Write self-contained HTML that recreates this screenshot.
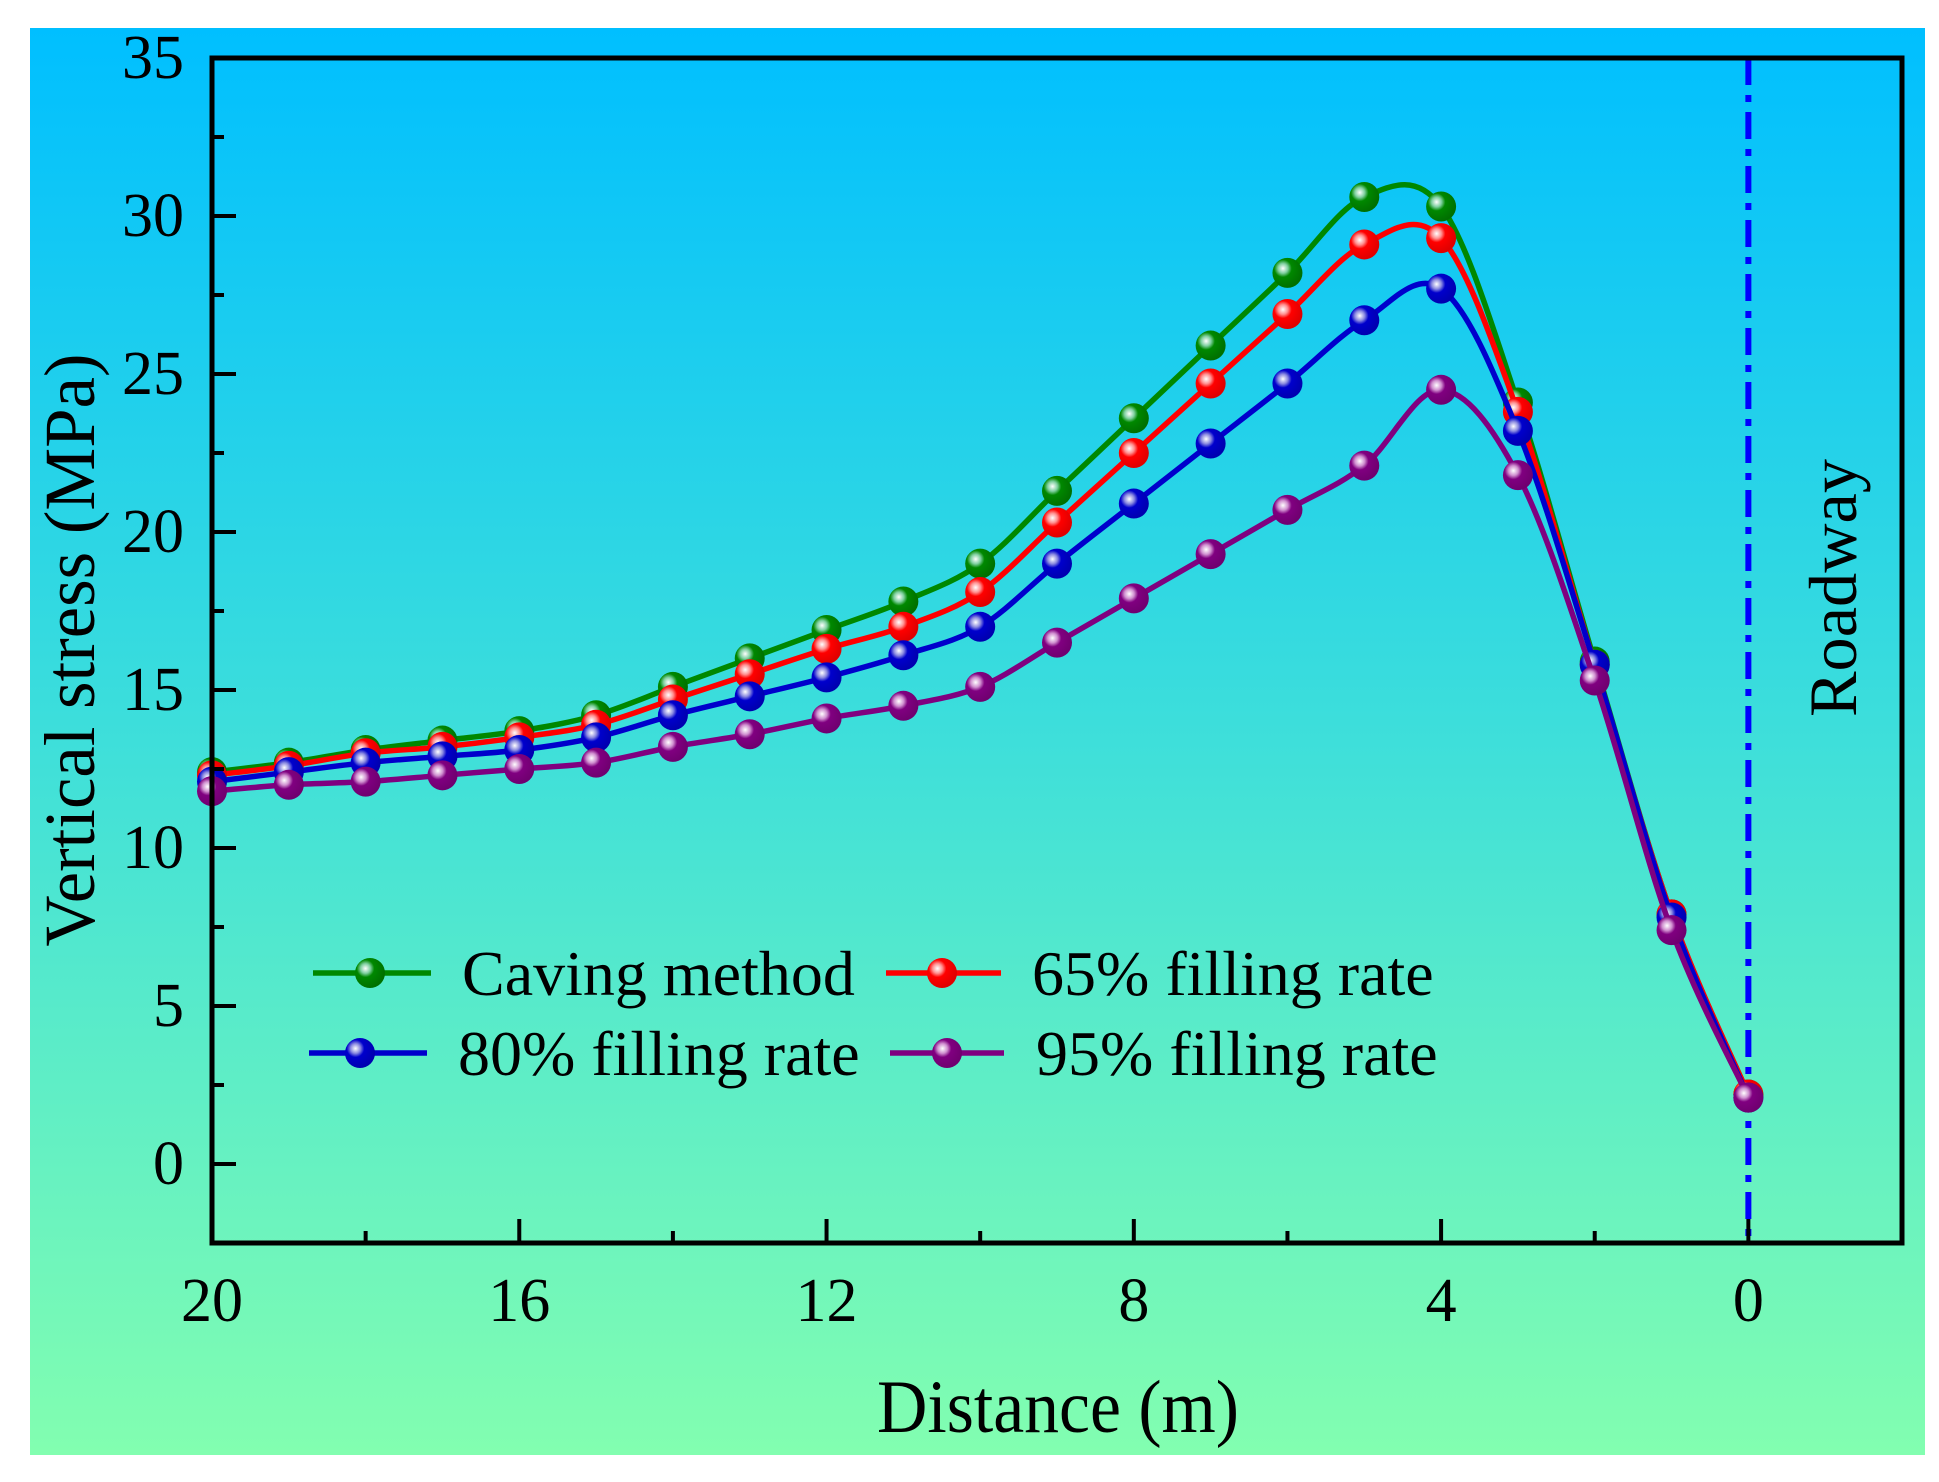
<!DOCTYPE html>
<html><head><meta charset="utf-8"><style>
html,body{margin:0;padding:0;background:#fff;}
svg{display:block;font-family:"Liberation Serif",serif;}
</style></head><body>
<svg id="chart" width="1939" height="1482" viewBox="0 0 1939 1482" xmlns="http://www.w3.org/2000/svg">
<defs>
<linearGradient id="bg" x1="0" y1="0" x2="0" y2="1">
<stop offset="0" stop-color="#00BFFF"/><stop offset="0.5" stop-color="#3EDFDA"/><stop offset="1" stop-color="#82FEB0"/>
</linearGradient>
<radialGradient id="g-green" cx="0.35" cy="0.35" r="0.65"><stop offset="0" stop-color="#fff"/><stop offset="0.25" stop-color="#7fd0a0"/><stop offset="0.45" stop-color="#008800"/><stop offset="1" stop-color="#007000"/></radialGradient>
<radialGradient id="g-red" cx="0.35" cy="0.35" r="0.65"><stop offset="0" stop-color="#fff"/><stop offset="0.25" stop-color="#ff9090"/><stop offset="0.45" stop-color="#ff0000"/><stop offset="1" stop-color="#e00000"/></radialGradient>
<radialGradient id="g-blue" cx="0.35" cy="0.35" r="0.65"><stop offset="0" stop-color="#fff"/><stop offset="0.25" stop-color="#8a8ae0"/><stop offset="0.45" stop-color="#0000cc"/><stop offset="1" stop-color="#0000b0"/></radialGradient>
<radialGradient id="g-purple" cx="0.35" cy="0.35" r="0.65"><stop offset="0" stop-color="#fff"/><stop offset="0.25" stop-color="#d090d0"/><stop offset="0.45" stop-color="#800080"/><stop offset="1" stop-color="#700070"/></radialGradient>
</defs>
<rect x="30" y="28" width="1895" height="1427" fill="url(#bg)"/>
<g id="plot"></g>
<g id="axes"></g>
<g id="legend"></g>
<text x="1058" y="1432" font-size="75" text-anchor="middle" textLength="362" lengthAdjust="spacingAndGlyphs">Distance (m)</text>
<text transform="translate(94,650) rotate(-90)" font-size="72" text-anchor="middle" textLength="593" lengthAdjust="spacingAndGlyphs">Vertical stress (MPa)</text>
<text transform="translate(1856,588) rotate(-90)" font-size="68" text-anchor="middle" textLength="258" lengthAdjust="spacingAndGlyphs">Roadway</text>
</svg>
<script>
const distances = [20,19,18,17,16,15,14,13,12,11,10,9,8,7,6,5,4,3,2,1,0];
const cavingValues = [12.4,12.7,13.1,13.4,13.7,14.2,15.1,16.0,16.9,17.8,19.0,21.3,23.6,25.9,28.2,30.6,30.3,24.1,15.9,7.9,2.2];
const fill65Values = [12.3,12.6,13.0,13.2,13.5,13.9,14.7,15.5,16.3,17.0,18.1,20.3,22.5,24.7,26.9,29.1,29.3,23.8,15.8,7.9,2.2];
const fill80Values = [12.1,12.4,12.7,12.9,13.1,13.5,14.2,14.8,15.4,16.1,17.0,19.0,20.9,22.8,24.7,26.7,27.7,23.2,15.8,7.8,2.1];
const fill95Values = [11.8,12.0,12.1,12.3,12.5,12.7,13.2,13.6,14.1,14.5,15.1,16.5,17.9,19.3,20.7,22.1,24.5,21.8,15.3,7.4,2.1];
const xTickLabels = [20,16,12,8,4,0];
const yTickLabels = [0,5,10,15,20,25,30,35];
const roadwayPosition = [0];

const NS = "http://www.w3.org/2000/svg";
const L = 212, R = 1902, T = 58, B = 1243;
const xMin = 20, xMax = -2, yMin = -2.5, yMax = 35;
const xs = v => L + (v - xMin) / (xMax - xMin) * (R - L);
const ys = v => B - (v - yMin) / (yMax - yMin) * (B - T);
function mk(tag, attrs, parent) {
  const e = document.createElementNS(NS, tag);
  for (const k in attrs) e.setAttribute(k, attrs[k]);
  parent.appendChild(e);
  return e;
}
const plot = document.getElementById('plot');
const axes = document.getElementById('axes');
const legend = document.getElementById('legend');

roadwayPosition.forEach(r => {
  const ln = mk('line', {x1: xs(r), x2: xs(r), y1: T, y2: B, stroke: '#0000FF', 'stroke-width': 6, 'stroke-dasharray': '27 10 7 10'}, plot);
  
  
});

function splinePath(pts) {
  let d = `M${pts[0][0]},${pts[0][1]}`;
  for (let i = 0; i < pts.length - 1; i++) {
    const p0 = pts[i - 1] || pts[i], p1 = pts[i], p2 = pts[i + 1], p3 = pts[i + 2] || p2;
    const c1 = [p1[0] + (p2[0] - p0[0]) / 6, p1[1] + (p2[1] - p0[1]) / 6];
    const c2 = [p2[0] - (p3[0] - p1[0]) / 6, p2[1] - (p3[1] - p1[1]) / 6];
    d += ` C${c1[0]},${c1[1]} ${c2[0]},${c2[1]} ${p2[0]},${p2[1]}`;
  }
  return d;
}
const series = [
  {vals: cavingValues, color: '#008800', grad: 'g-green', name: 'caving-method'},
  {vals: fill65Values, color: '#FF0000', grad: 'g-red', name: 'filling-65'},
  {vals: fill80Values, color: '#0000CC', grad: 'g-blue', name: 'filling-80'},
  {vals: fill95Values, color: '#800080', grad: 'g-purple', name: 'filling-95'}
];
series.forEach(s => {
  const pts = distances.map((d, i) => [xs(d), ys(s.vals[i])]);
  const p = mk('path', {d: splinePath(pts), fill: 'none', stroke: s.color, 'stroke-width': 5.5}, plot);
  
  
  pts.forEach(pt => {
    const c = mk('circle', {cx: pt[0], cy: pt[1], r: 15, fill: 'url(#' + s.grad + ')'}, plot);
    
    
  });
});

const frame = mk('rect', {x: L, y: T, width: R - L, height: B - T, fill: 'none', stroke: '#000', 'stroke-width': 5}, axes);


for (let v = 0; v <= 35; v += 2.5) {
  const major = v % 5 === 0;
  const t = mk('line', {x1: L, x2: L + (major ? 24 : 12), y1: ys(v), y2: ys(v), stroke: '#000', 'stroke-width': 4}, axes);
  
  
}
yTickLabels.forEach(v => {
  const t = mk('text', {x: 184, y: ys(v) + 20, 'font-size': 62, 'text-anchor': 'end'}, axes);
  t.textContent = v;
  
  
});
for (let v = 20; v >= 0; v -= 2) {
  const major = v % 4 === 0;
  const t = mk('line', {x1: xs(v), x2: xs(v), y1: B, y2: B - (major ? 24 : 12), stroke: '#000', 'stroke-width': 4}, axes);
  
  
}
xTickLabels.forEach(v => {
  const t = mk('text', {x: xs(v), y: 1321, 'font-size': 62, 'text-anchor': 'middle'}, axes);
  t.textContent = v;
  
  
});

const legendItems = [
  {label: 'Caving method', s: 0, x1: 313, x2: 431, mx: 370, tx: 462, y: 973},
  {label: '65% filling rate', s: 1, x1: 886, x2: 1001, mx: 942, tx: 1032, y: 973},
  {label: '80% filling rate', s: 2, x1: 309, x2: 427, mx: 360, tx: 458, y: 1053},
  {label: '95% filling rate', s: 3, x1: 890, x2: 1004, mx: 947, tx: 1036, y: 1053}
];
legendItems.forEach(it => {
  const s = series[it.s];
  const g = mk('g', {}, legend);
  
  
  mk('line', {x1: it.x1, x2: it.x2, y1: it.y, y2: it.y, stroke: s.color, 'stroke-width': 5.5}, g);
  mk('circle', {cx: it.mx, cy: it.y, r: 15, fill: 'url(#' + s.grad + ')'}, g);
  const t = mk('text', {x: it.tx, y: it.y + 22, 'font-size': 64}, g);
  t.textContent = it.label;
});
</script>
</body></html>
